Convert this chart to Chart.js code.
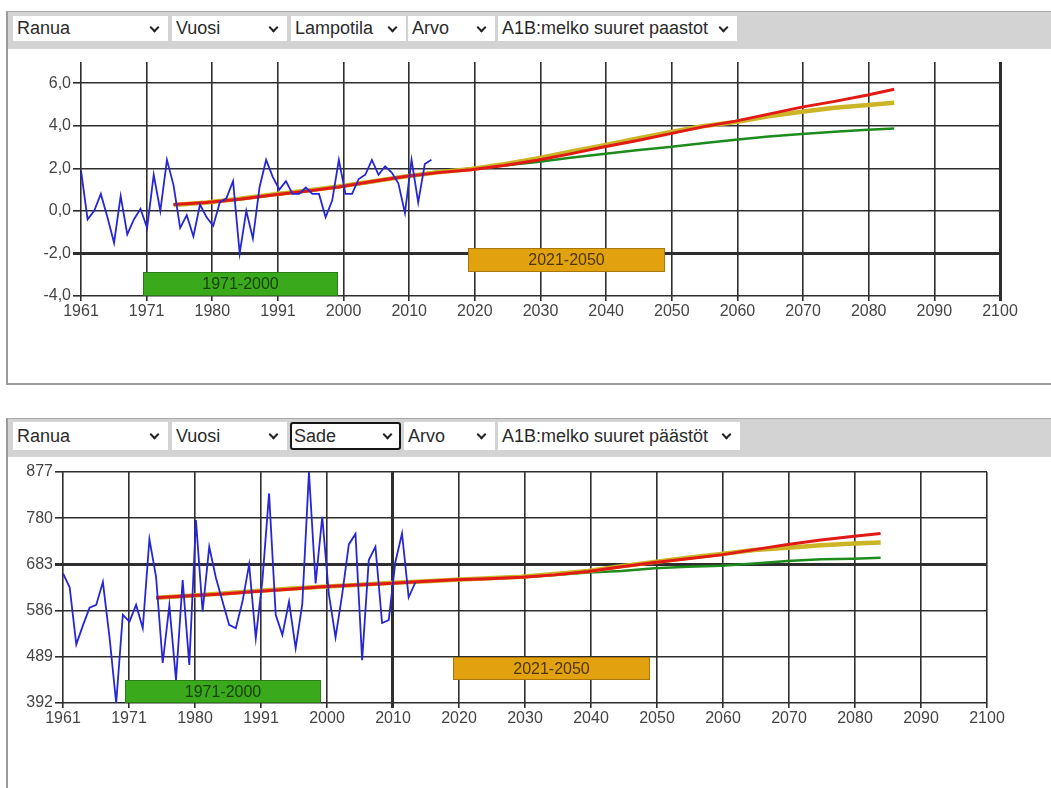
<!DOCTYPE html>
<html>
<head>
<meta charset="utf-8">
<title>Ranua – lämpötila ja sade</title>
<script src="https://cdn.jsdelivr.net/npm/chart.js@4/dist/chart.umd.min.js"></script>
<style>
  html, body { margin: 0; padding: 0; background: #fff; width: 1051px; height: 788px; overflow: hidden;
    font-family: "Liberation Sans", Arial, sans-serif; }
  .frame { position: absolute; left: 6px; width: 1060px; border-left: 2px solid #9c9c9c; border-top: 1px solid #a9a9a9; box-sizing: border-box; }
  .bar { position: absolute; left: 8px; width: 1043px; background: #d3d3d3; }
  .sel { position: absolute; background: #fff; color: #2b2b2b; font-size: 18px; padding-left: 4px;
    box-sizing: border-box; white-space: nowrap; overflow: hidden; }
  .sel.focus { border: 2px solid #161616; border-radius: 3px; padding-left: 2px; }
  .chev { position: absolute; right: 10px; width: 5px; height: 5px; border-right: 2px solid #222; border-bottom: 2px solid #222; transform: rotate(45deg); }
  canvas { position: absolute; }
</style>
</head>
<body>

<!-- upper panel: temperature -->
<div class="frame" style="top:11px;height:374px;border-bottom:2px solid #9c9c9c;"></div>
<div class="bar" style="top:12px;height:37px;"></div>
<div id="bar1"></div>
<canvas id="tempChart" width="1043" height="333" style="left:8px;top:50px;width:1043px;height:333px;"></canvas>

<!-- lower panel: precipitation -->
<div class="frame" style="top:418px;height:380px;"></div>
<div class="bar" style="top:419px;height:38px;"></div>
<div id="bar2"></div>
<canvas id="rainChart" width="1043" height="330" style="left:8px;top:458px;width:1043px;height:330px;"></canvas>

<script>
// Axis labels
const xTickLabels = ['1961','1971','1980','1991','2000','2010','2020','2030','2040','2050','2060','2070','2080','2090','2100'];
const tempTicks = [-4, -2, 0, 2, 4, 6];
const rainTicks = [392, 489, 586, 683, 780, 877];

// Observed yearly values
const obsYears = [1961,1962,1963,1964,1965,1966,1967,1968,1969,1970,
                  1971,1972,1973,1974,1975,1976,1977,1978,1979,1980,
                  1981,1982,1983,1984,1985,1986,1987,1988,1989,1990,
                  1991,1992,1993,1994,1995,1996,1997,1998,1999,2000,
                  2001,2002,2003,2004,2005,2006,2007,2008,2009,2010,
                  2011,2012,2013,2014];
const tempObs = [1.9,-0.4,0.0,0.8,-0.3,-1.5,0.7,-1.1,-0.4,0.1,
                 -0.8,1.7,0.0,2.4,1.2,-0.8,-0.2,-1.2,0.3,-0.3,
                 -0.7,0.4,0.6,1.4,-2.0,0.0,-1.3,1.1,2.4,1.6,
                 1.0,1.4,0.8,0.8,1.1,0.8,0.8,-0.3,0.5,2.4,
                 0.8,0.8,1.5,1.7,2.4,1.7,2.1,1.8,1.3,-0.1,
                 2.4,0.4,2.2,2.4];
const rainObs = [664,635,515,555,592,598,646,530,392,577,
                 563,598,549,736,657,476,597,440,650,472,
                 776,584,720,655,605,556,549,605,683,528,
                 650,832,577,535,605,507,600,877,643,783,
                 620,530,620,725,747,482,692,720,560,566,
                 688,748,614,645];

// Scenario projections (30-year running means)
const projYears = [1975,1980,1985,1990,1995,2000,2005,2010,2015,2020,2025,2030,
                   2035,2040,2045,2050,2055,2060,2065,2070,2075,2080,2084];
const tempRed    = [0.30,0.40,0.55,0.75,0.92,1.12,1.38,1.62,1.80,1.93,2.13,2.38,
                    2.68,3.00,3.30,3.62,3.95,4.22,4.55,4.88,5.15,5.45,5.72];
const tempYellow = [0.28,0.40,0.57,0.77,0.95,1.15,1.38,1.62,1.82,1.97,2.20,2.46,
                    2.78,3.08,3.40,3.70,3.98,4.18,4.45,4.66,4.85,4.98,5.08];
const tempGreen  = [0.28,0.38,0.55,0.75,0.92,1.12,1.35,1.62,1.85,1.98,2.14,2.30,
                    2.50,2.68,2.85,3.00,3.18,3.35,3.50,3.62,3.72,3.82,3.87];
const rainRed    = [613,617,621,626,631,636,640,643,647,651,653,656,
                    661,668,678,687,695,703,714,725,734,742,748];
const rainYellow = [613,617,622,627,632,636,640,644,647,651,654,657,
                    663,669,679,688,697,705,713,718,723,727,729];
const rainGreen  = [612,616,621,626,631,635,639,643,647,651,653,656,
                    661,666,669,675,678,680,685,690,694,695,697];

// Reference periods
const periodLabels = ['1971-2000', '2021-2050'];
const periodStart  = [1970.4, 2019.6];
const periodEnd    = [1999.8, 2049.3];

// Toolbar selections
const toolbars = [
  { id: 'bar1', top: 16, height: 25, items: [
    ['Ranua', 13, 155], ['Vuosi', 172, 115], ['Lampotila', 291, 115], ['Arvo', 408, 87], ['A1B:melko suuret paastot', 498, 239]
  ], focus: -1 },
  { id: 'bar2', top: 422, height: 28, items: [
    ['Ranua', 13, 155], ['Vuosi', 172, 115], ['Sade', 290, 111], ['Arvo', 404, 91], ['A1B:melko suuret päästöt', 498, 242]
  ], focus: 2 }
];

toolbars.forEach(tb => {
  const host = document.getElementById(tb.id);
  tb.items.forEach(([text, left, width], i) => {
    const d = document.createElement('div');
    d.className = 'sel' + (i === tb.focus ? ' focus' : '');
    d.style.left = left + 'px';
    d.style.top = tb.top + 'px';
    d.style.width = width + 'px';
    d.style.height = tb.height + 'px';
    const inner = (i === tb.focus) ? tb.height - 4 : tb.height;
    d.style.lineHeight = inner + 'px';
    d.textContent = text;
    const c = document.createElement('span');
    c.className = 'chev';
    c.style.top = Math.round(inner / 2 - 5) + 'px';
    if (i === tb.focus) c.style.right = '8px';
    d.appendChild(c);
    host.appendChild(d);
  });
});

// Coloured period boxes drawn with the chart scales
const periodBoxes = {
  id: 'periodBoxes',
  beforeDatasetsDraw(chart, args, opts) {
    const { ctx, scales: { x, y } } = chart;
    periodLabels.forEach((label, i) => {
      const [lo, hi] = opts.bands[i];
      const x0 = Math.round(x.getPixelForValue(periodStart[i]));
      const x1 = Math.round(x.getPixelForValue(periodEnd[i]));
      const y0 = Math.round(y.getPixelForValue(hi));
      const y1 = Math.round(y.getPixelForValue(lo));
      ctx.save();
      ctx.fillStyle = opts.fills[i];
      ctx.fillRect(x0, y0, x1 - x0, y1 - y0);
      ctx.strokeStyle = opts.edges[i];
      ctx.lineWidth = 1;
      ctx.strokeRect(x0 + 0.5, y0 + 0.5, x1 - x0 - 1, y1 - y0 - 1);
      ctx.fillStyle = opts.texts[i];
      ctx.font = '16px "Liberation Sans", Arial, sans-serif';
      ctx.textAlign = 'center';
      ctx.textBaseline = 'middle';
      ctx.fillText(label, (x0 + x1) / 2, (y0 + y1) / 2 + 1);
      ctx.restore();
    });
  }
};

const pts = (xs, ys) => xs.map((v, i) => ({ x: v, y: ys[i] }));

function buildChart(canvasId, cfg) {
  return new Chart(document.getElementById(canvasId), {
    type: 'line',
    data: {
      datasets: [
        { label: 'Havainnot', data: pts(obsYears, cfg.obs), borderColor: '#2626d6', borderWidth: 1.8, order: 0 },
        { label: 'A1B ylä', data: pts(projYears, cfg.red), borderColor: '#e11a16', borderWidth: 3, order: 1 },
        { label: 'A1B keski', data: pts(projYears, cfg.yellow), borderColor: '#cbb526', borderWidth: 4.5, order: 2 },
        { label: 'A1B ala', data: pts(projYears, cfg.green), borderColor: '#1d8c1d', borderWidth: 2.5, order: 3 }
      ]
    },
    plugins: [periodBoxes],
    options: {
      responsive: false,
      maintainAspectRatio: false,
      animation: false,
      layout: { padding: { top: cfg.padTop, right: cfg.padRight, left: 0, bottom: 0 } },
      elements: { point: { radius: 0 }, line: { tension: 0 } },
      plugins: {
        legend: { display: false },
        tooltip: { enabled: false },
        periodBoxes: {
          bands: cfg.bands,
          fills: ['#3aa91c', '#e2a10e'],
          edges: ['#2a7d12', '#a87606'],
          texts: ['#1a420a', '#4f3604']
        }
      },
      scales: {
        x: {
          type: 'linear',
          min: 1961,
          max: 2100,
          afterBuildTicks: s => { s.ticks = xTickLabels.map((l, i) => ({ value: 1961 + i * 139 / 14 })); },
          afterFit: s => { s.height = cfg.xHeight; },
          ticks: {
            autoSkip: false, maxRotation: 0, minRotation: 0, padding: 1,
            color: '#454545', font: { size: 16, family: '"Liberation Sans", Arial, sans-serif' },
            callback: (v, i) => xTickLabels[i]
          },
          grid: {
            color: '#2e2e2e',
            lineWidth: c => (c.index === cfg.thickX ? 3 : 1.6),
            tickLength: 5
          },
          border: { display: false }
        },
        y: {
          min: cfg.yTicks[0],
          max: cfg.yMax,
          afterBuildTicks: s => { s.ticks = cfg.yTicks.map(v => ({ value: v })); },
          afterFit: s => { s.width = cfg.yWidth; },
          ticks: {
            padding: 2,
            color: '#454545', font: { size: 16, family: '"Liberation Sans", Arial, sans-serif' },
            callback: cfg.yFormat
          },
          grid: {
            color: '#2e2e2e',
            lineWidth: c => (c.tick && c.tick.value === cfg.thickY ? 3 : 1.6),
            tickLength: 8
          },
          border: { display: false }
        }
      }
    }
  });
}

buildChart('tempChart', {
  obs: tempObs, red: tempRed, yellow: tempYellow, green: tempGreen,
  yTicks: tempTicks, yMax: 7, thickY: -2, thickX: 14,
  yFormat: v => v.toFixed(1).replace('.', ','),
  bands: [[-4, -2.87], [-2.85, -1.75]],
  padTop: 12, padRight: 51, yWidth: 73, xHeight: 87
});

buildChart('rainChart', {
  obs: rainObs, red: rainRed, yellow: rainYellow, green: rainGreen,
  yTicks: rainTicks, yMax: 877, thickY: 683, thickX: 5,
  yFormat: v => String(v),
  bands: [[392, 440], [440, 489]],
  padTop: 14, padRight: 64, yWidth: 55, xHeight: 85
});
</script>
</body>
</html>
